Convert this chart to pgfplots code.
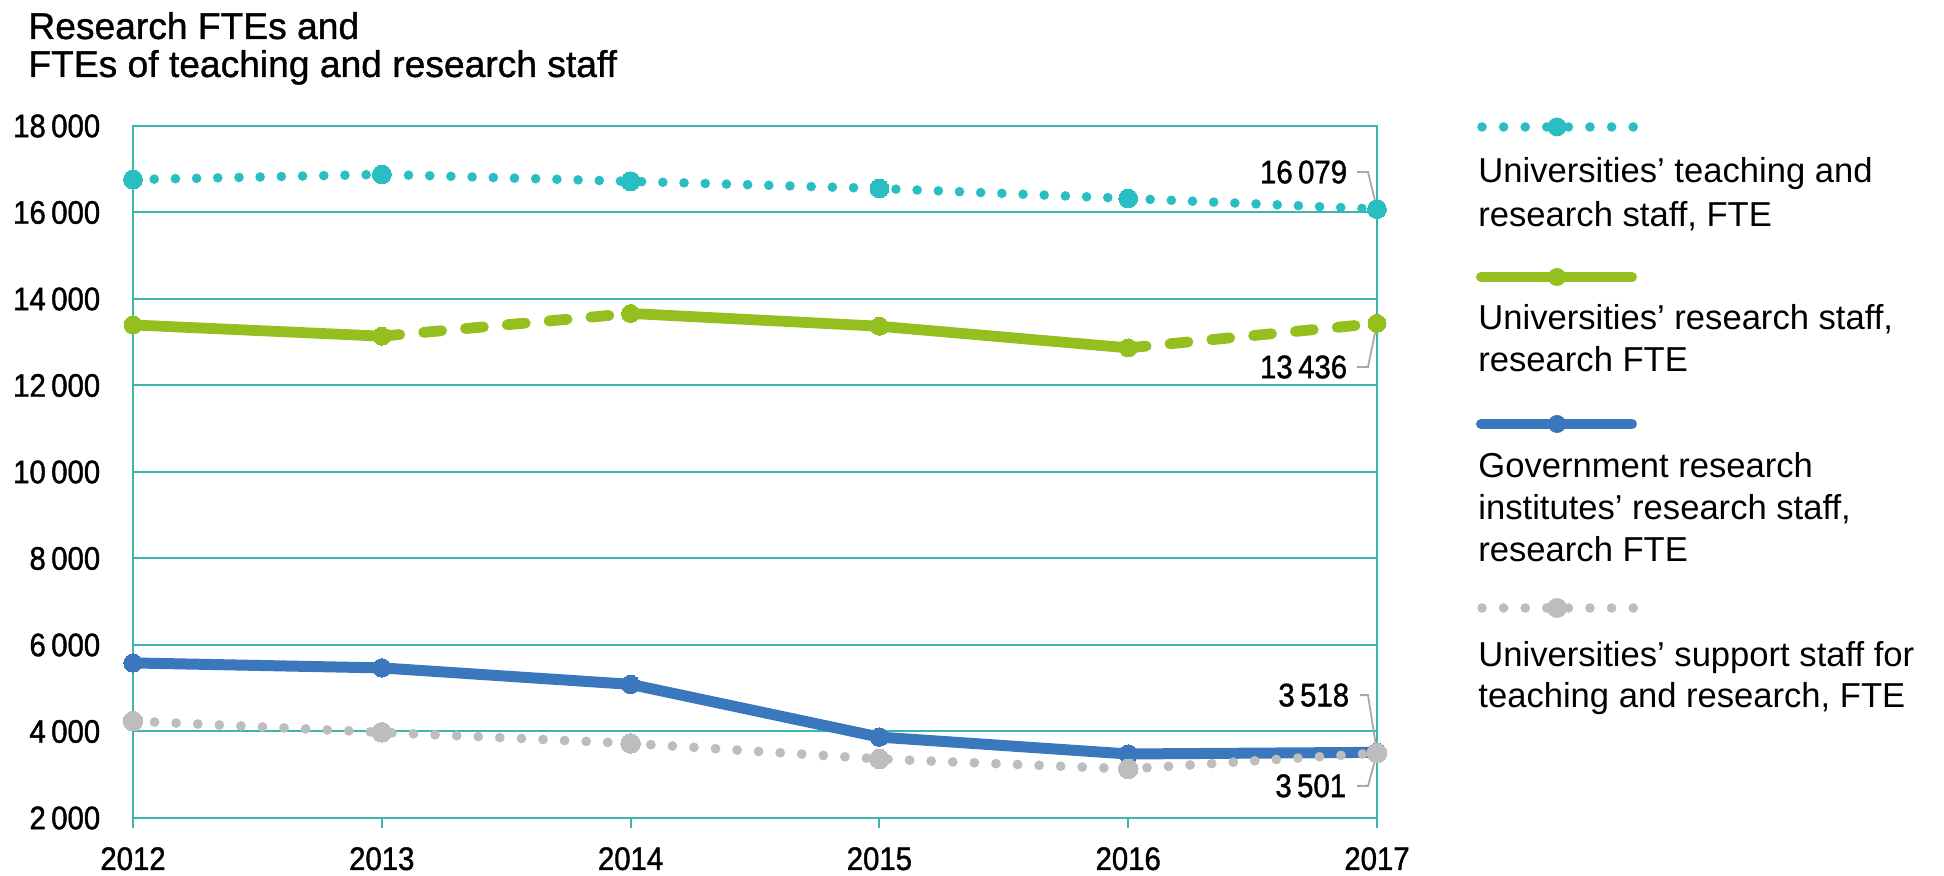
\documentclass[border=0pt]{standalone}
\usepackage{fontspec}
\setmainfont{Liberation Sans}
\newfontfamily\condfont[FakeStretch=0.9, FakeBold=1.2]{Liberation Sans}
\newfontfamily\titlefam[FakeBold=1.0]{Liberation Sans}
\usepackage{pgfplots}
\usepackage{pgfplotstable}
\pgfplotsset{compat=1.18}
\definecolor{axteal}{HTML}{3CB5AF}
\definecolor{serteal}{HTML}{29BEC1}
\definecolor{sergreen}{HTML}{93C01F}
\definecolor{serblue}{HTML}{3A77BC}
\definecolor{sergray}{HTML}{BDBDBD}
\definecolor{leadgray}{HTML}{A8A8A8}

\pgfplotstableread{
year teal green blue gray
2012 16760 13400 5585 4240
2013 16880 13140 5470 3980
2014 16720 13665 5090 3725
2015 16555 13370 3870 3365
2016 16325 12870 3480 3135
2017 16079 13436 3518 3501
}\datatable

\newcommand{\legfont}{\fontsize{17.3}{21.5}\selectfont}
\newcommand{\titlefont}{\titlefam\fontsize{18.6}{19}\selectfont}
\newcommand{\tfont}{\condfont\fontsize{16.3}{16.3}\selectfont}

\begin{document}
\begin{tikzpicture}
\path[use as bounding box] (0,0) rectangle (972pt,438pt);
% title
\node[anchor=base west, inner sep=0pt, font=\titlefont] at (14pt,418.5pt) {Research FTEs and};
\node[anchor=base west, inner sep=0pt, font=\titlefont] at (14pt,399.5pt) {FTEs of teaching and research staff};

\begin{axis}[
  at={(66.5pt,29pt)}, anchor=south west,
  width=622pt, height=346pt, scale only axis,
  xmin=2012, xmax=2017, ymin=2000, ymax=18000,
  xtick={2012,2013,2014,2015,2016,2017},
  ytick={2000,4000,6000,8000,10000,12000,14000,16000,18000},
  scaled y ticks=false, scaled x ticks=false,
  clip=false,
  ymajorgrids,
  grid style={line width=1pt, axteal},
  axis line style={line width=1.2pt, axteal},
  xtick align=outside, xtick pos=left,
  major tick length=5pt,
  xtick style={line width=1pt, axteal},
  ytick style={draw=none},
  /pgf/number format/assume math mode=true,
  tick label style={font=\tfont, black},
  xticklabel style={/pgf/number format/1000 sep={}, anchor=base, inner sep=0pt, yshift=-21pt},
  yticklabel style={/pgf/number format/fixed, /pgf/number format/1000 sep={\,}, anchor=east, inner sep=0pt, xshift=-16.2pt},
]
% teal dotted
\addplot[serteal, line width=4.8pt, line cap=round, dash pattern=on 0pt off 10.6pt,
  mark=*, mark size=4.7pt, mark options={solid, draw=serteal, fill=serteal, line width=0pt}]
  table[x=year, y=teal] {\datatable};
% green segments
\addplot[sergreen, line width=5.4pt, line cap=round, restrict x to domain=2012:2013, forget plot] table[x=year, y=green] {\datatable};
\addplot[sergreen, line width=5.4pt, line cap=round, dash pattern=on 9pt off 12pt, restrict x to domain=2013:2014, forget plot] table[x=year, y=green] {\datatable};
\addplot[sergreen, line width=5.4pt, line cap=round, line join=round, restrict x to domain=2014:2016, forget plot] table[x=year, y=green] {\datatable};
\addplot[sergreen, line width=5.4pt, line cap=round, dash pattern=on 9pt off 12pt, restrict x to domain=2016:2017, forget plot] table[x=year, y=green] {\datatable};
\addplot[only marks, mark=*, mark size=4.5pt, mark options={draw=sergreen, fill=sergreen, line width=0pt}] table[x=year, y=green] {\datatable};
% blue
\addplot[serblue, line width=5.5pt, line cap=round, line join=round,
  mark=*, mark size=4.6pt, mark options={solid, draw=serblue, fill=serblue, line width=0pt}]
  table[x=year, y=blue] {\datatable};
% gray dotted
\addplot[sergray, line width=4.9pt, line cap=round, dash pattern=on 0pt off 10.8pt,
  mark=*, mark size=4.9pt, mark options={solid, draw=sergray, fill=sergray, line width=0pt}]
  table[x=year, y=gray] {\datatable};

% value labels with leader lines
\draw[leadgray, line width=0.9pt] (axis cs:2017,16079) -- ++(-4.5pt,18.5pt) -- ++(-5.5pt,0pt)
  node[anchor=east, inner sep=0pt, xshift=-4.5pt, text=black, font=\tfont] {16\,079};
\draw[leadgray, line width=0.9pt] (axis cs:2017,13436) -- ++(-4.5pt,-21.8pt) -- ++(-5.5pt,0pt)
  node[anchor=east, inner sep=0pt, xshift=-4.5pt, text=black, font=\tfont] {13\,436};
\draw[leadgray, line width=0.9pt] (axis cs:2017,3518) -- ++(-4.5pt,28.6pt) -- ++(-4pt,0pt)
  node[anchor=east, inner sep=0pt, xshift=-5pt, text=black, font=\tfont] {3\,518};
\draw[leadgray, line width=0.9pt] (axis cs:2017,3501) -- ++(-4.5pt,-16.4pt) -- ++(-5.5pt,0pt)
  node[anchor=east, inner sep=0pt, xshift=-5pt, text=black, font=\tfont] {3\,501};
\end{axis}

% legend
\draw[serteal, line width=4.8pt, line cap=round, dash pattern=on 0pt off 10.8pt] (741pt,374.5pt) -- (817pt,374.5pt);
\fill[serteal] (778.5pt,374.5pt) circle (4.7pt);
\node[anchor=base west, inner sep=0pt, font=\legfont] at (739pt,346.5pt) {Universities’ teaching and};
\node[anchor=base west, inner sep=0pt, font=\legfont] at (739pt,324.5pt) {research staff, FTE};

\draw[sergreen, line width=5pt, line cap=round] (740.5pt,299.5pt) -- (816pt,299.5pt);
\fill[sergreen] (778.5pt,299.5pt) circle (4.5pt);
\node[anchor=base west, inner sep=0pt, font=\legfont] at (739pt,273pt) {Universities’ research staff,};
\node[anchor=base west, inner sep=0pt, font=\legfont] at (739pt,252pt) {research FTE};

\draw[serblue, line width=5pt, line cap=round] (740.5pt,226pt) -- (816pt,226pt);
\fill[serblue] (778.5pt,226pt) circle (4.5pt);
\node[anchor=base west, inner sep=0pt, font=\legfont] at (739pt,199pt) {Government research};
\node[anchor=base west, inner sep=0pt, font=\legfont] at (739pt,178pt) {institutes’ research staff,};
\node[anchor=base west, inner sep=0pt, font=\legfont] at (739pt,157pt) {research FTE};

\draw[sergray, line width=4.8pt, line cap=round, dash pattern=on 0pt off 10.8pt] (741pt,134pt) -- (817pt,134pt);
\fill[sergray] (778.5pt,134pt) circle (5pt);
\node[anchor=base west, inner sep=0pt, font=\legfont] at (739pt,104.5pt) {Universities’ support staff for};
\node[anchor=base west, inner sep=0pt, font=\legfont] at (739pt,84pt) {teaching and research, FTE};
\end{tikzpicture}
\end{document}
